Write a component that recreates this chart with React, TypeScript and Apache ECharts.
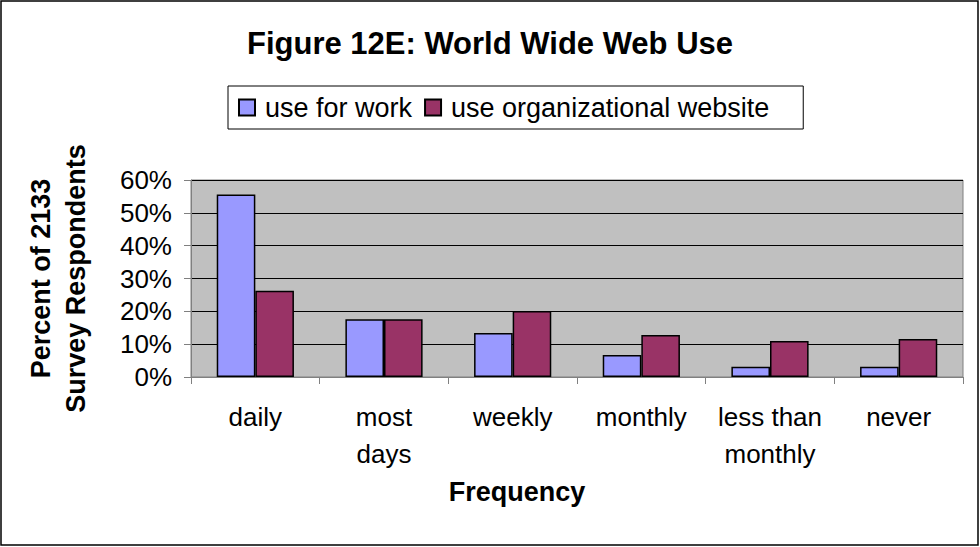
import React, { useEffect, useRef } from "react";
import * as echarts from "echarts";

const categories = ["daily", "most\ndays", "weekly", "monthly", "less than\nmonthly", "never"];
const useForWork = [55.6, 17.6, 13.4, 6.7, 3.1, 3.1];
const useOrgWebsite = [26.3, 17.6, 20.1, 12.8, 11.0, 11.6];
const seriesNames = ["use for work", "use organizational website"];
const titleText = "Figure 12E: World Wide Web Use";
const xTitle = "Frequency";
const yTitle = "Percent of 2133\nSurvey Respondents";

const FONT = "'Liberation Sans', Arial, sans-serif";

export default function App() {
  const ref = useRef<HTMLDivElement>(null);
  useEffect(() => {
    if (!ref.current) return;
    const chart = echarts.init(ref.current, undefined, { renderer: "svg" });
    chart.setOption({
      animation: false,
      backgroundColor: "#ffffff",
      textStyle: { fontFamily: FONT },
      title: {
        text: titleText,
        left: "center",
        top: 23,
        textStyle: { fontFamily: FONT, fontSize: 31, fontWeight: "bold", color: "#000" },
      },
      legend: {
        left: 228,
        top: 86,
        padding: [8, 34, 8, 10],
        borderColor: "#000",
        borderWidth: 1,
        icon: "rect",
        itemWidth: 16,
        itemHeight: 16,
        itemGap: 12,
        textStyle: { fontFamily: FONT, fontSize: 27, color: "#000", padding: [0, 0, 0, 5] },
        data: seriesNames,
      },
      grid: {
        left: 191,
        right: 17,
        top: 180,
        bottom: 170,
        show: true,
        backgroundColor: "#C0C0C0",
        borderColor: "#808080",
        borderWidth: 1,
      },
      xAxis: {
        type: "category",
        data: categories,
        axisLine: { lineStyle: { color: "#808080", width: 1 } },
        axisTick: { show: true, length: 7, lineStyle: { color: "#808080" } },
        axisLabel: { fontFamily: FONT, fontSize: 26, color: "#000", margin: 21, lineHeight: 37, interval: 0 },
        splitLine: { show: false },
      },
      yAxis: {
        type: "value",
        min: 0,
        max: 60,
        interval: 10,
        name: yTitle,
        nameLocation: "middle",
        nameGap: 98,
        nameRotate: 90,
        nameTextStyle: { fontFamily: FONT, fontSize: 27, fontWeight: "bold", color: "#000", lineHeight: 35 },
        axisLine: { show: true, lineStyle: { color: "#808080", width: 1 } },
        axisTick: { show: true, length: 7, lineStyle: { color: "#808080" } },
        axisLabel: { fontFamily: FONT, fontSize: 26, color: "#000", margin: 19, formatter: "{value}%" },
        splitLine: { show: true, lineStyle: { color: "#000", width: 1 } },
      },
      series: [
        {
          name: seriesNames[0],
          type: "bar",
          data: useForWork,
          barGap: "0%",
          barCategoryGap: "40%",
          itemStyle: { color: "#9999FF", borderColor: "#000", borderWidth: 1.5 },
        },
        {
          name: seriesNames[1],
          type: "bar",
          data: useOrgWebsite,
          barGap: "0%",
          barCategoryGap: "40%",
          itemStyle: { color: "#993366", borderColor: "#000", borderWidth: 1.5 },
        },
      ],
      graphic: [
        {
          type: "text",
          x: 517,
          y: 492,
          style: {
            text: xTitle,
            align: "center",
            verticalAlign: "middle",
            fontFamily: FONT,
            fontSize: 27,
            fontWeight: "bold",
            fill: "#000",
          },
          silent: true,
        },
        {
          type: "rect",
          shape: { x: 1, y: 1, width: 977, height: 544 },
          style: { fill: "none", stroke: "#000", lineWidth: 1.5 },
          silent: true,
        },
      ],
    });
    return () => chart.dispose();
  }, []);
  return (
    <div
      ref={ref}
      style={{ position: "fixed", left: 0, top: 0, width: 980, height: 547 }}
    />
  );
}
